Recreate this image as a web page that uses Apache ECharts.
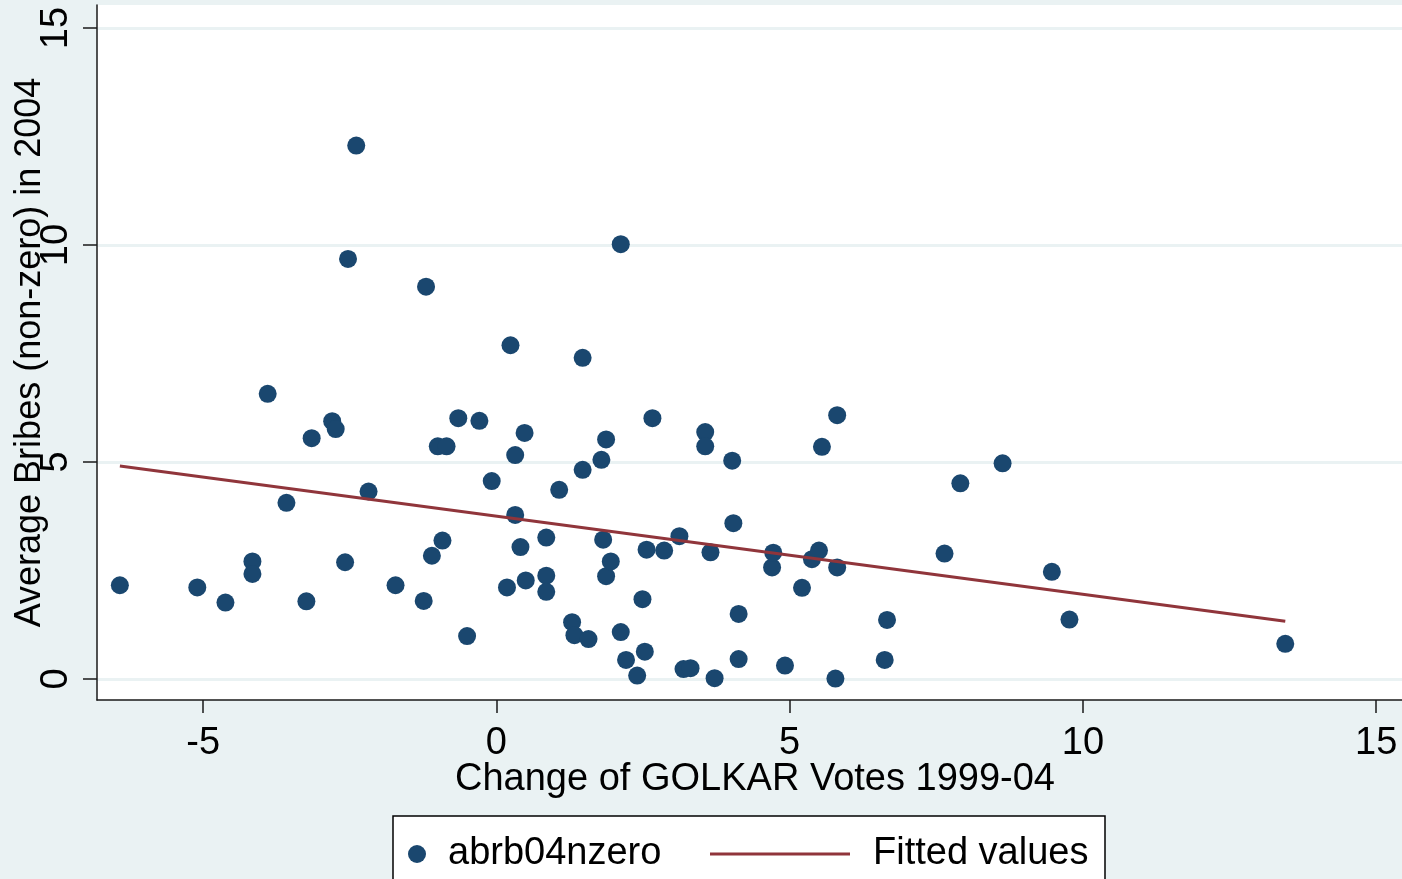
<!DOCTYPE html>
<html><head><meta charset="utf-8">
<script src="https://cdn.jsdelivr.net/npm/echarts@6/dist/echarts.min.js"></script>
<style>html,body{margin:0;padding:0;background:#eaf2f3;overflow:hidden}#c{width:1402px;height:879px}</style>
</head><body><div id="c"></div>
<script>
const xValues = [-6.42,-5.10,-4.62,-4.16,-4.16,-3.90,-3.58,-3.24,-3.15,-2.80,-2.74,-2.58,-2.53,-2.39,-2.18,-1.72,-1.24,-1.20,-1.10,-1.00,
  -0.92,-0.85,-0.65,-0.50,-0.29,-0.08,0.18,0.24,0.32,0.32,0.41,0.48,0.50,0.85,0.85,0.85,1.07,1.29,1.33,1.47,
  1.47,1.57,1.79,1.82,1.87,1.87,1.95,2.12,2.12,2.21,2.40,2.49,2.53,2.56,2.66,2.86,3.12,3.19,3.31,3.56,
  3.56,3.65,3.72,4.02,4.04,4.13,4.13,4.70,4.72,4.92,5.21,5.38,5.50,5.55,5.78,5.81,5.81,6.62,6.66,7.64,
  7.91,8.63,9.47,9.77,13.45];
const yValues = [2.16,2.11,1.76,2.71,2.42,6.57,4.06,1.79,5.55,5.94,5.76,2.69,9.68,12.29,4.32,2.16,1.80,9.04,2.84,5.36,
  3.19,5.36,6.01,0.99,5.95,4.56,2.11,7.69,5.16,3.78,3.04,5.67,2.27,3.26,2.38,2.01,4.36,1.31,1.01,7.40,
  4.82,0.92,5.05,3.21,5.52,2.37,2.71,10.02,1.08,0.44,0.08,1.84,0.63,2.98,6.01,2.96,3.29,0.23,0.25,5.69,
  5.36,2.92,0.02,5.03,3.59,1.50,0.46,2.57,2.91,0.31,2.10,2.76,2.96,5.35,0.01,6.08,2.57,0.44,1.36,2.89,
  4.51,4.97,2.47,1.37,0.81];
const fitX = [-6.42, 13.45];
const fitY = [4.91, 1.33];
const xTicks = [-5, 0, 5, 10, 15];
const yTicks = [0, 5, 10, 15];
const xRange = [-6.81, 15.44];
const yRange = [-0.484, 15.53];
const seriesNames = ['abrb04nzero', 'Fitted values'];
const xTitle = 'Change of GOLKAR Votes 1999-04';
const yTitle = 'Average Bribes (non-zero) in 2004';

const FONT = 'Liberation Sans';
const chart = echarts.init(document.getElementById('c'), null, {renderer: 'canvas'});
const scatterData = xValues.map((x, i) => [x, yValues[i]]);
const fitData = fitX.map((x, i) => [x, fitY[i]]);

chart.setOption({
  backgroundColor: '#eaf2f3',
  animation: false,
  textStyle: {fontFamily: FONT, color: '#000'},
  grid: {left: 97, right: 0, top: 5, bottom: 179, show: true, backgroundColor: '#ffffff', borderWidth: 0,
    containLabel: false, outerBoundsMode: 'none'},
  graphic: [{
    type: 'rect', z: 0,
    shape: {x: 393, y: 816, width: 712, height: 80},
    style: {fill: '#ffffff', stroke: '#000000', lineWidth: 1.5}
  }],
  legend: [{
    data: [seriesNames[0]],
    left: 408, top: 835, padding: 0,
    icon: 'circle', itemWidth: 18, itemHeight: 18,
    textStyle: {fontFamily: FONT, fontSize: 38, color: '#000', padding: [0, 0, 0, 17]}
  }, {
    data: [seriesNames[1]],
    left: 710, top: 835, padding: 0,
    icon: 'rect', itemWidth: 140, itemHeight: 3,
    textStyle: {fontFamily: FONT, fontSize: 38, color: '#000', padding: [0, 0, 0, 18]}
  }],
  xAxis: {
    type: 'value', min: xRange[0], max: xRange[1],
    name: xTitle, nameLocation: 'middle', nameGap: 61, nameMoveOverlap: false,
    nameTextStyle: {fontFamily: FONT, fontSize: 38, color: '#000', padding: [0, 0, 0, 11]},
    axisLine: {show: true, onZero: false, lineStyle: {color: '#1a1a1a', width: 1.5}},
    axisTick: {show: true, length: 13, customValues: xTicks, lineStyle: {color: '#1a1a1a', width: 1.5}},
    axisLabel: {customValues: xTicks, margin: 25, fontFamily: FONT, fontSize: 38, color: '#000'},
    splitLine: {show: false}
  },
  yAxis: {
    type: 'value', min: yRange[0], max: yRange[1],
    name: yTitle, nameLocation: 'middle', nameGap: 49, nameMoveOverlap: false,
    nameTextStyle: {fontFamily: FONT, fontSize: 36, color: '#000'},
    axisLine: {show: true, onZero: false, lineStyle: {color: '#1a1a1a', width: 1.5}},
    axisTick: {show: true, length: 14, customValues: yTicks, lineStyle: {color: '#1a1a1a', width: 1.5}},
    axisLabel: {customValues: yTicks, rotate: 90, margin: 21, fontFamily: FONT, fontSize: 38, color: '#000'},
    splitLine: {show: true, lineStyle: {color: '#eaf2f3', width: 3}}
  },
  series: [{
    name: seriesNames[0], type: 'scatter', data: scatterData,
    symbol: 'circle', symbolSize: 18, z: 3,
    itemStyle: {color: '#1a476f', opacity: 1}
  }, {
    name: seriesNames[1], type: 'line', data: fitData,
    showSymbol: false, symbol: 'none', z: 4,
    itemStyle: {color: '#90353b'},
    lineStyle: {color: '#90353b', width: 3}
  }]
});
</script></body></html>
